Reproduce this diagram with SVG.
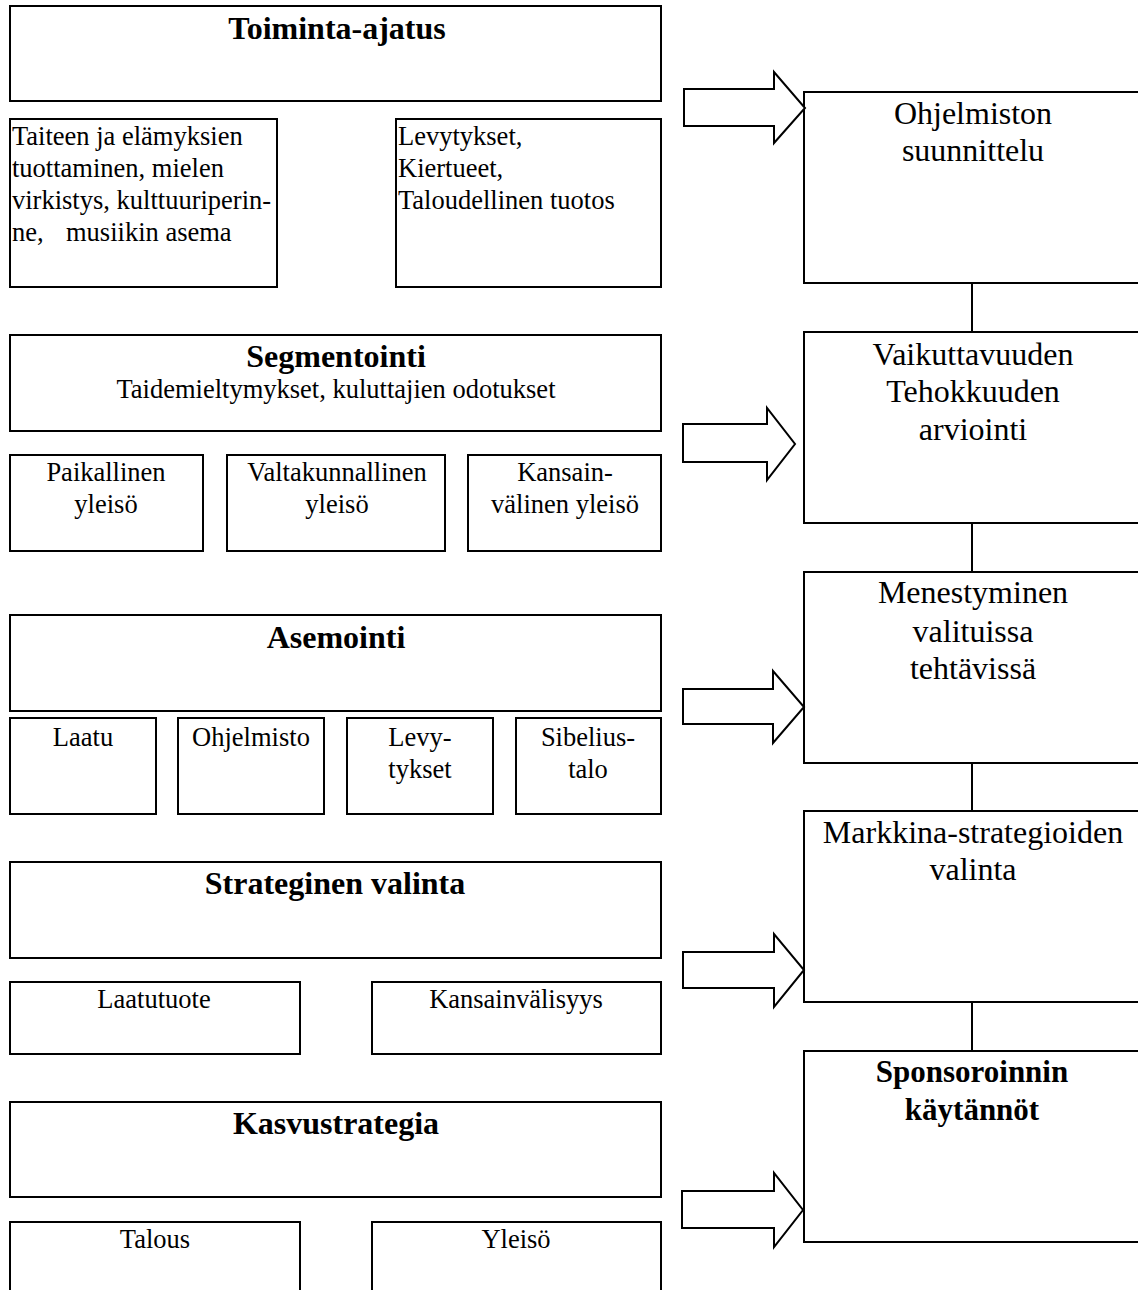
<svg xmlns="http://www.w3.org/2000/svg" width="1138" height="1290" viewBox="0 0 1138 1290">
<style>
.box{fill:#fff;stroke:#000;stroke-width:2}
.arr{fill:#fff;stroke:#000;stroke-width:2;stroke-linejoin:miter}
.conn{stroke:#000;stroke-width:2}
text{font-family:"Liberation Serif","Times New Roman",serif;fill:#000}
.t{font-size:32px;font-weight:bold;text-anchor:middle}
.tr{font-size:31px;font-weight:bold;text-anchor:middle}
.r{font-size:32px;text-anchor:middle}
.s{font-size:26.5px;text-anchor:middle}
.l{font-size:26.5px}
</style>
<rect width="1138" height="1290" fill="#fff"/>

<g id="toiminta-ajatus"><rect class="box" x="10" y="6" width="651" height="95"/><text class="t" x="337" y="39">Toiminta-ajatus</text></g>
<g id="taiteen"><rect class="box" x="10" y="119" width="267" height="168"/>
<text class="l"><tspan x="12" y="145">Taiteen ja elämyksien</tspan><tspan x="12" y="177">tuottaminen, mielen</tspan><tspan x="12" y="209">virkistys, kulttuuriperin-</tspan><tspan x="12" y="241">ne,</tspan><tspan x="66" y="241">musiikin asema</tspan></text></g>
<g id="levytykset"><rect class="box" x="396" y="119" width="265" height="168"/>
<text class="l"><tspan x="398" y="145">Levytykset,</tspan><tspan x="398" y="177">Kiertueet,</tspan><tspan x="398" y="209">Taloudellinen tuotos</tspan></text></g>

<g id="segmentointi"><rect class="box" x="10" y="335" width="651" height="96"/><text class="t" x="336" y="367">Segmentointi</text><text class="s" x="336" y="398">Taidemieltymykset, kuluttajien odotukset</text></g>
<g id="paikallinen"><rect class="box" x="10" y="455" width="193" height="96"/><text class="s"><tspan x="106" y="481">Paikallinen</tspan><tspan x="106" y="513">yleisö</tspan></text></g>
<g id="valtakunnallinen"><rect class="box" x="227" y="455" width="218" height="96"/><text class="s"><tspan x="337" y="481">Valtakunnallinen</tspan><tspan x="337" y="513">yleisö</tspan></text></g>
<g id="kansainvalinen"><rect class="box" x="468" y="455" width="193" height="96"/><text class="s"><tspan x="565" y="481">Kansain-</tspan><tspan x="565" y="513">välinen yleisö</tspan></text></g>

<g id="asemointi"><rect class="box" x="10" y="615" width="651" height="96"/><text class="t" x="336" y="648">Asemointi</text></g>
<g id="laatu"><rect class="box" x="10" y="718" width="146" height="96"/><text class="s" x="83" y="746">Laatu</text></g>
<g id="ohjelmisto"><rect class="box" x="178" y="718" width="146" height="96"/><text class="s" x="251" y="746">Ohjelmisto</text></g>
<g id="levy"><rect class="box" x="347" y="718" width="146" height="96"/><text class="s"><tspan x="420" y="746">Levy-</tspan><tspan x="420" y="778">tykset</tspan></text></g>
<g id="sibelius"><rect class="box" x="516" y="718" width="145" height="96"/><text class="s"><tspan x="588" y="746">Sibelius-</tspan><tspan x="588" y="778">talo</tspan></text></g>

<g id="strateginen"><rect class="box" x="10" y="862" width="651" height="96"/><text class="t" x="335" y="894">Strateginen valinta</text></g>
<g id="laatutuote"><rect class="box" x="10" y="982" width="290" height="72"/><text class="s" x="154" y="1008">Laatutuote</text></g>
<g id="kansainvalisyys"><rect class="box" x="372" y="982" width="289" height="72"/><text class="s" x="516" y="1008">Kansainvälisyys</text></g>

<g id="kasvustrategia"><rect class="box" x="10" y="1102" width="651" height="95"/><text class="t" x="336" y="1134">Kasvustrategia</text></g>
<g id="talous"><rect class="box" x="10" y="1222" width="290" height="80"/><text class="s" x="155" y="1248">Talous</text></g>
<g id="yleiso"><rect class="box" x="372" y="1222" width="289" height="80"/><text class="s" x="516" y="1248">Yleisö</text></g>

<g id="ohjelmiston"><rect class="box" x="804" y="92" width="340" height="191"/><text class="r"><tspan x="973" y="124">Ohjelmiston</tspan><tspan x="973" y="161">suunnittelu</tspan></text></g>
<g id="vaikuttavuuden"><rect class="box" x="804" y="332" width="340" height="191"/><text class="r"><tspan x="973" y="365">Vaikuttavuuden</tspan><tspan x="973" y="402">Tehokkuuden</tspan><tspan x="973" y="440">arviointi</tspan></text></g>
<g id="menestyminen"><rect class="box" x="804" y="572" width="340" height="191"/><text class="r"><tspan x="973" y="603">Menestyminen</tspan><tspan x="973" y="642">valituissa</tspan><tspan x="973" y="679">tehtävissä</tspan></text></g>
<g id="markkina"><rect class="box" x="804" y="811" width="340" height="191"/><text class="r"><tspan x="973" y="843">Markkina-strategioiden</tspan><tspan x="973" y="880">valinta</tspan></text></g>
<g id="sponsoroinnin"><rect class="box" x="804" y="1051" width="340" height="191"/><text class="tr"><tspan x="972" y="1082">Sponsoroinnin</tspan><tspan x="972" y="1120">käytännöt</tspan></text></g>

<g id="connectors">
<polygon class="arr" points="684,89 774,89 774,72 805,108 774,143 774,126 684,126"/>
<polygon class="arr" points="683,424 767,424 767,408 795,444 767,480 767,462 683,462"/>
<polygon class="arr" points="683,689 773,689 773,671 804,707 773,743 773,724 683,724"/>
<polygon class="arr" points="683,952 774,952 774,934 804,970 774,1007 774,988 683,988"/>
<polygon class="arr" points="682,1191 774,1191 774,1173 803,1210 774,1247 774,1228 682,1228"/>
<line class="conn" x1="972" y1="283" x2="972" y2="332"/>
<line class="conn" x1="972" y1="523" x2="972" y2="572"/>
<line class="conn" x1="972" y1="763" x2="972" y2="811"/>
<line class="conn" x1="972" y1="1002" x2="972" y2="1051"/>
</g>
</svg>
